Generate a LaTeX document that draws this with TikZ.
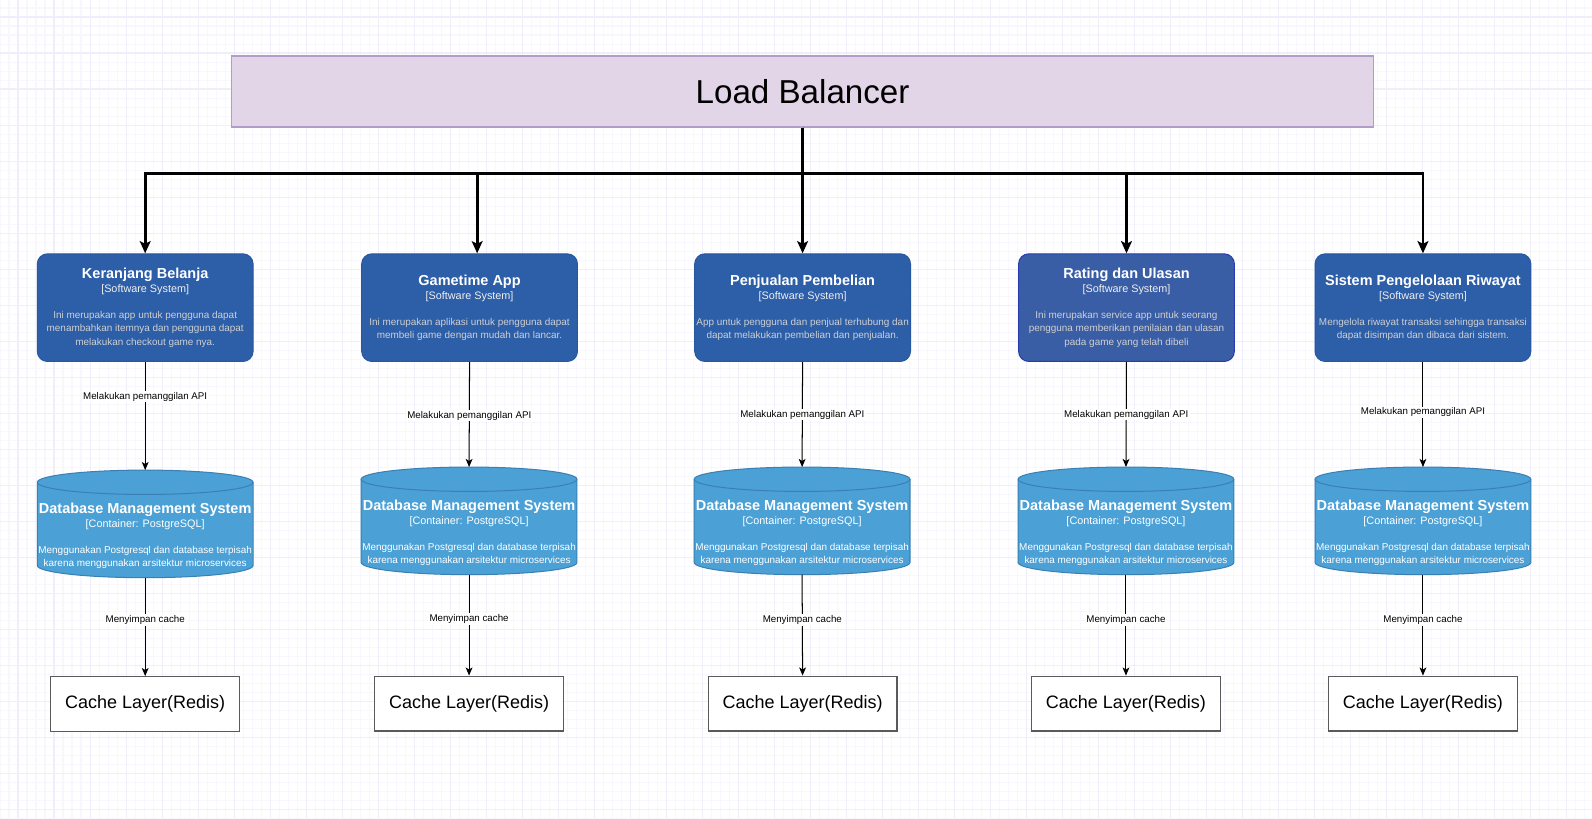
\documentclass[tikz,border=0pt]{standalone}
\usepackage{fontspec}
\setmainfont{Liberation Sans}
\usetikzlibrary{arrows.meta}
\definecolor{gridmaj}{HTML}{EFEEFA}
\definecolor{gridmin}{HTML}{F8F7FD}
\definecolor{sysfill}{HTML}{2D5EA8}
\definecolor{sysdraw}{HTML}{2A58A0}
\definecolor{ratfill}{HTML}{3A5EA5}
\definecolor{ratdraw}{HTML}{2A3AB0}
\definecolor{dbfill}{HTML}{4BA0D6}
\definecolor{dbdraw}{HTML}{3A80B5}
\definecolor{desccol}{HTML}{D0D0D0}
\definecolor{subcol}{HTML}{F0F0F0}
\definecolor{lbfill}{HTML}{E1D5E7}
\definecolor{lbdraw}{HTML}{B49CC8}
\definecolor{cachedraw}{HTML}{5A5A5A}
\newcommand\dbcyl[2]{%
  \node[dbbox] (#1) at (#2) {};
  \draw[dbline] ([yshift=-9pt]#1.north west) -- ([yshift=9pt]#1.south west)
    arc[start angle=180,end angle=360,x radius=79.7pt,y radius=9pt]
    -- ([yshift=-9pt]#1.north east)
    arc[start angle=0,end angle=180,x radius=79.7pt,y radius=9pt] -- cycle;
  \draw[dbline,fill=none] ([yshift=-9pt]#1.north west)
    arc[start angle=180,end angle=360,x radius=79.7pt,y radius=9pt];
  \node[dbtext] (#1t) at ([yshift=-9pt]#1.center)
    {{\fontsize{10.7}{12}\selectfont\bfseries Database Management System}\\[0.65pt]
     {\fontsize{8}{9.75}\selectfont [Container: PostgreSQL]}\\[9.45pt]
     Menggunakan Postgresql dan database terpisah\\
     karena menggunakan arsitektur microservices};
}
\begin{document}
\begin{tikzpicture}[x=0.75pt,y=-0.75pt,
  gmin/.style={draw=gridmin,line width=0.75pt},
  gmaj/.style={draw=gridmaj,line width=0.75pt},
  lbbox/.style={draw=lbdraw,fill=lbfill,line width=1.1pt,minimum width=843.75pt,minimum height=52.5pt,
    font=\fontsize{24.5}{28}\selectfont},
  sysbox/.style={draw=sysdraw,fill=sysfill,line width=0.75pt,rounded corners=7.5pt,
    minimum width=159.4pt,minimum height=79.5pt,inner sep=0pt,align=center,text=white,
    font=\fontsize{7.33}{9.75}\selectfont},
  ratbox/.style={sysbox,draw=ratdraw,fill=ratfill},
  dbbox/.style={minimum width=159.4pt,minimum height=79.5pt,inner sep=0pt,outer sep=0pt},
  dbline/.style={draw=dbdraw,fill=dbfill,line width=0.75pt},
  dbtext/.style={align=center,text=white,inner sep=0pt,font=\fontsize{7.33}{9.75}\selectfont},
  cachebox/.style={draw=cachedraw,fill=white,line width=0.9pt,minimum width=139.5pt,minimum height=40.5pt,
    font=\fontsize{13.3}{15}\selectfont},
  toparr/.style={draw=black,line width=2pt,-{Stealth[length=9pt,width=8pt,inset=2pt]}},
  lowarr/.style={draw=black,line width=0.75pt,-{Stealth[length=6pt,width=5pt,inset=1.5pt]}},
  lbl/.style={fill=white,inner sep=1pt,text=black,font=\fontsize{7.2}{8}\selectfont}
]
\useasboundingbox (0,0) rectangle (1568,805.7);
\fill[white] (0,0) rectangle (1568,805.7);
% grid
\foreach \i [evaluate=\i as \x using \i*8.865] in {0,...,177} \draw[gmin] (\x,0) -- (\x,805.7);
\foreach \j [evaluate=\j as \y using 7.88+\j*8.865] in {0,...,90} \draw[gmin] (0,\y) -- (1568,\y);
\foreach \i [evaluate=\i as \x using 17.73+\i*35.46] in {0,...,44} \draw[gmaj] (\x,0) -- (\x,805.7);
\foreach \j [evaluate=\j as \y using 16.74+\j*35.46] in {0,...,22} \draw[gmaj] (0,\y) -- (1568,\y);

% load balancer
\node[lbbox] (lb) at (790.5,90) {Load Balancer};
\coordinate (trunk) at (790.5,171);

% software systems
\newcommand\ttl[1]{{\fontsize{10.7}{12}\selectfont\bfseries #1}\\[0.65pt]{\fontsize{8}{9.75}\selectfont\color{subcol}[Software System]}\\[9.45pt]}
\node[sysbox] (k1) at (143,303) {\ttl{Keranjang Belanja}
  \color{desccol}Ini merupakan app untuk pengguna dapat\\
  \color{desccol}menambahkan itemnya dan pengguna dapat\\
  \color{desccol}melakukan checkout game nya.};
\node[sysbox] (k2) at (462.5,303) {\ttl{Gametime App}
  \color{desccol}Ini merupakan aplikasi untuk pengguna dapat\\
  \color{desccol}membeli game dengan mudah dan lancar.};
\node[sysbox] (k3) at (790.5,303) {\ttl{Penjualan Pembelian}
  \color{desccol}App untuk pengguna dan penjual terhubung dan\\
  \color{desccol}dapat melakukan pembelian dan penjualan.};
\node[ratbox] (k4) at (1109.5,303) {\ttl{Rating dan Ulasan}
  \color{desccol}Ini merupakan service app untuk seorang\\
  \color{desccol}pengguna memberikan penilaian dan ulasan\\
  \color{desccol}pada game yang telah dibeli};
\node[sysbox] (k5) at (1401.5,303) {\ttl{Sistem Pengelolaan Riwayat}
  \color{desccol}Mengelola riwayat transaksi sehingga transaksi\\
  \color{desccol}dapat disimpan dan dibaca dari sistem.};

% databases
\dbcyl{d1}{143,516}
\dbcyl{d2}{462,513}
\dbcyl{d3}{790,513}
\dbcyl{d4}{1109,513}
\dbcyl{d5}{1401.5,513}

% caches
\node[cachebox] (c1) at (143,693.5) {Cache Layer(Redis)};
\node[cachebox] (c2) at (462,693) {Cache Layer(Redis)};
\node[cachebox] (c3) at (790.5,693) {Cache Layer(Redis)};
\node[cachebox] (c4) at (1109,693) {Cache Layer(Redis)};
\node[cachebox] (c5) at (1401.5,693) {Cache Layer(Redis)};

% top connectors
\draw[toparr] (lb.south) -- (trunk) -| (k1.north);
\draw[toparr] (lb.south) -- (trunk) -| ([xshift=5.6pt]k2.north);
\draw[toparr] (lb.south) -- (k3.north);
\draw[toparr] (lb.south) -- (trunk) -| (k4.north);
\draw[toparr] (lb.south) -- (trunk) -| (k5.north);

% API connectors
\draw[lowarr] (k1.south) -- node[lbl,pos=0.32] (a1) {Melakukan pemanggilan API} (d1.north);
\draw[lowarr] (k2.south) -- node[lbl,pos=0.51] (a2) {Melakukan pemanggilan API} (d2.north);
\draw[lowarr] (k3.south) -- node[lbl,pos=0.5] (a3) {Melakukan pemanggilan API} (d3.north);
\draw[lowarr] (k4.south) -- node[lbl,pos=0.5] (a4) {Melakukan pemanggilan API} (d4.north);
\draw[lowarr] (k5.south) -- node[lbl,pos=0.48] (a5) {Melakukan pemanggilan API} (d5.north);

% cache connectors
\draw[lowarr] (d1.south) -- node[lbl,pos=0.43] (m1) {Menyimpan cache} (c1.north);
\draw[lowarr] (d2.south) -- node[lbl,pos=0.44] (m2) {Menyimpan cache} (c2.north);
\draw[lowarr] (d3.south) -- node[lbl,pos=0.45] (m3) {Menyimpan cache} (c3.north);
\draw[lowarr] (d4.south) -- node[lbl,pos=0.45] (m4) {Menyimpan cache} (c4.north);
\draw[lowarr] (d5.south) -- node[lbl,pos=0.45] (m5) {Menyimpan cache} (c5.north);
\end{tikzpicture}
\end{document}
